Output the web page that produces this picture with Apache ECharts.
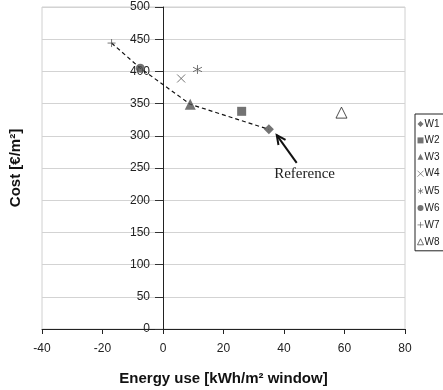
<!DOCTYPE html>
<html>
<head>
<meta charset="utf-8">
<script src="https://cdn.jsdelivr.net/npm/echarts@6/dist/echarts.min.js"></script>
<style>html,body{margin:0;padding:0;background:#fff;}#c{width:443px;height:390px;}</style>
</head>
<body>
<div id="c"></div>
<script>
// Data
var seriesNames = ['W1','W2','W3','W4','W5','W6','W7','W8'];
var energyUse = [35, 26, 9, 6, 11.4, -7.5, -17, 59];
var cost = [310, 338, 349, 389, 403, 405, 444, 336];
var frontOrder = ['W7','W6','W3','W1'];
var xTicks = {min: -40, max: 80, interval: 20};
var yTicks = {min: 0, max: 500, interval: 50};
var annotationText = 'Reference';
var arrowTip = [37.6, 301];
var arrowTail = [44.2, 258];
var labelAnchor = [46.8, 241];

var FONT = '"Liberation Sans", Arial, sans-serif';
var dark = '#505050';
var GRID = {left: 42, right: 38, top: 7, bottom: 61};
var symbols = {
  W1: {symbol: 'diamond', size: 10, style: {color: dark}},
  W2: {symbol: 'rect', size: 9, style: {color: dark}},
  W3: {symbol: 'triangle', size: 11, style: {color: dark}},
  W4: {symbol: 'path://M0,0L10,10M10,0L0,10', size: 8, style: {color: 'none', borderColor: '#555', borderWidth: 1}},
  W5: {symbol: 'path://M5,0L5,10M0.7,2.5L9.3,7.5M0.7,7.5L9.3,2.5', size: 9, style: {color: 'none', borderColor: '#555', borderWidth: 1}},
  W6: {symbol: 'circle', size: 9, style: {color: dark}},
  W7: {symbol: 'path://M5,0L5,10M0,5L10,5', size: 8, style: {color: 'none', borderColor: '#555', borderWidth: 1}},
  W8: {symbol: 'triangle', size: 11, style: {color: '#fff', borderColor: '#222', borderWidth: 1}}
};

var series = seriesNames.map(function (n, i) {
  var s = symbols[n];
  return {
    name: n, type: 'scatter', symbol: s.symbol, symbolSize: s.size,
    itemStyle: s.style, data: [[energyUse[i], cost[i]]], z: 5
  };
});
series.push({
  name: 'front', type: 'line', symbol: 'none', silent: true, z: 3,
  lineStyle: {color: '#111', width: 1.2, type: [4, 3]},
  data: frontOrder.map(function (n) { var i = seriesNames.indexOf(n); return [energyUse[i], cost[i]]; })
});

var legendData = seriesNames.map(function (n) {
  var s = symbols[n];
  var st = Object.assign({}, s.style);
  if (st.borderWidth) st.borderWidth = 0.8;
  return {name: n, icon: s.symbol, itemStyle: st};
});

var plotW = 443 - GRID.left - GRID.right;
var yAxisOffset = -plotW * (0 - xTicks.min) / (xTicks.max - xTicks.min);

var chart = echarts.init(document.getElementById('c'));
chart.setOption({
  animation: false,
  backgroundColor: '#fff',
  grid: {left: GRID.left, right: GRID.right, top: GRID.top, bottom: GRID.bottom, containLabel: false, outerBoundsMode: 'none',
    show: true, borderColor: '#d0d0d0', borderWidth: 1, backgroundColor: 'transparent'},
  xAxis: {
    type: 'value', min: xTicks.min, max: xTicks.max, interval: xTicks.interval,
    axisLine: {show: true, onZero: true, lineStyle: {color: '#222', width: 1}},
    axisTick: {show: true, length: 5, lineStyle: {color: '#222'}},
    axisLabel: {color: '#222', fontFamily: FONT, fontSize: 12, margin: 14},
    splitLine: {show: false},
    name: 'Energy use [kWh/m² window]', nameLocation: 'middle', nameGap: 42,
    nameTextStyle: {color: '#111', fontFamily: FONT, fontSize: 15, fontWeight: 'bold'}
  },
  yAxis: [{
    type: 'value', min: yTicks.min, max: yTicks.max, interval: yTicks.interval,
    axisLine: {show: true, onZero: true, lineStyle: {color: '#222', width: 1}},
    axisTick: {show: true, length: 8, lineStyle: {color: '#333'}},
    axisLabel: {show: false},
    splitLine: {show: true, lineStyle: {color: '#d3d3d3', width: 1}}
  }, {
    type: 'value', min: yTicks.min, max: yTicks.max, interval: yTicks.interval,
    position: 'left', offset: yAxisOffset,
    axisLine: {show: false, onZero: false},
    axisTick: {show: false},
    axisLabel: {color: '#222', fontFamily: FONT, fontSize: 12, margin: 13},
    splitLine: {show: false},
    name: 'Cost [€/m²]', nameLocation: 'middle', nameGap: 140, nameRotate: 90,
    nameTextStyle: {color: '#111', fontFamily: FONT, fontSize: 15, fontWeight: 'bold'}
  }],
  legend: {
    data: legendData, orient: 'vertical', left: 415, top: 114,
    itemWidth: 6, itemHeight: 6, itemGap: 6.4, padding: [5, 6, 4, 0],
    borderColor: '#222', borderWidth: 1, backgroundColor: '#fff',
    textStyle: {color: '#222', fontFamily: FONT, fontSize: 10, padding: [0, 0, 0, -4]}
  },
  series: series
});

function px(p) { return chart.convertToPixel({gridIndex: 0}, p); }
var tip = px(arrowTip), tail = px(arrowTail), lab = px(labelAnchor);
var ang = Math.atan2(tail[1] - tip[1], tail[0] - tip[0]);
var hl = 10, ha = 0.45;
var h1 = [tip[0] + hl * Math.cos(ang + ha), tip[1] + hl * Math.sin(ang + ha)];
var h2 = [tip[0] + hl * Math.cos(ang - ha), tip[1] + hl * Math.sin(ang - ha)];
chart.setOption({
  graphic: [
    {type: 'polyline', shape: {points: [tail, tip]}, style: {stroke: '#111', lineWidth: 2, fill: null}, z: 10},
    {type: 'polyline', shape: {points: [h1, tip, h2]}, style: {stroke: '#111', lineWidth: 2, fill: null}, z: 10},
    {type: 'text', x: lab[0], y: lab[1], style: {text: annotationText, fill: '#222', font: '15px "Liberation Serif", "Times New Roman", serif', align: 'center', verticalAlign: 'middle'}, z: 10}
  ]
});
</script>
</body>
</html>
